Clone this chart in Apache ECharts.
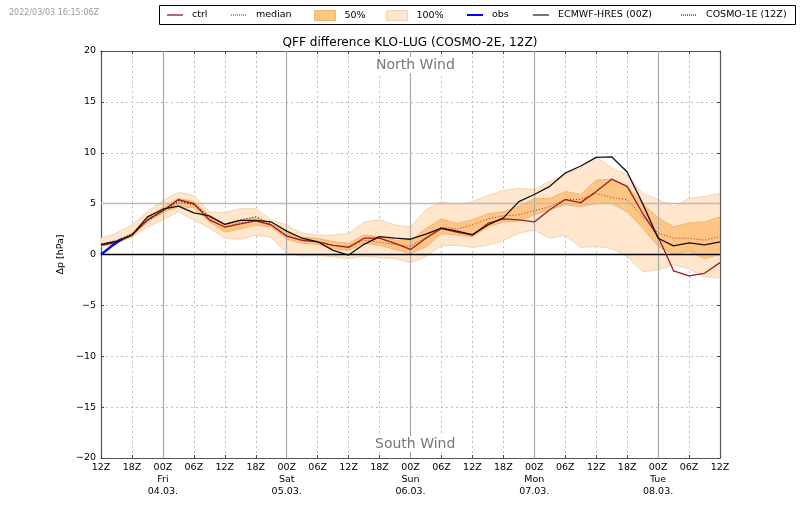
<!DOCTYPE html>
<html><head><meta charset="utf-8">
<style>html,body{margin:0;padding:0;background:#fff}#c{width:800px;height:509px}</style>
<script src="https://cdn.jsdelivr.net/npm/echarts@6/dist/echarts.min.js"></script>
</head><body><div id="c"></div>
<script>
const hours=[0,3,6,9,12,15,18,21,24,27,30,33,36,39,42,45,48,51,54,57,60,63,66,69,72,75,78,81,84,87,90,93,96,99,102,105,108,111,114,117,120];
const upper100=[1.6,2.1,2.9,4.2,5.3,6.1,5.8,4.2,4.1,4.5,4.5,3.4,2.9,2.1,1.9,1.9,2.07,3.2,3.4,2.9,2.7,4.4,5.2,4.85,5.2,5.8,6.3,6.5,6.4,7.2,7.8,8.5,9.6,8.5,7.8,6.0,5.4,4.7,5.5,5.7,6.0];
const lower100=[0.9,1.2,1.7,2.7,3.4,4.2,3.4,2.6,1.6,1.5,1.9,1.7,0.1,-0.15,-0.1,-0.2,-0.4,-0.15,-0.3,-0.4,-0.8,-0.2,0.9,0.9,0.7,0.9,1.4,2.1,2.4,1.6,1.9,0.7,0.8,0.6,-0.2,-1.7,-1.5,-1.0,-1.4,-2.2,-2.3];
const upper50=[1.0,1.3,2.1,3.6,4.6,5.5,5.2,3.8,3.0,3.3,3.6,3.0,2.1,1.7,1.6,1.25,1.1,1.9,1.75,1.4,1.4,2.55,3.5,3.05,3.4,4.0,4.2,4.7,5.5,5.5,6.2,5.9,7.3,7.4,6.7,5.0,3.6,2.7,3.1,3.2,3.7];
const lower50=[0.8,1.1,1.8,3.2,4.1,4.7,4.6,3.2,2.2,2.5,2.9,2.7,1.5,1.1,1.0,0.6,0.4,1.1,0.9,0.5,0.1,0.75,2.05,1.9,1.75,2.7,3.2,3.3,3.9,4.4,4.9,4.7,5.0,5.0,4.2,2.6,0.8,0.0,0.3,-0.4,0.0];
const ctrl=[0.9,1.2,1.9,3.4,4.3,5.4,5.0,3.4,2.7,3.0,3.3,2.9,1.8,1.4,1.25,0.9,0.7,1.6,1.6,1.1,0.5,1.6,2.55,2.2,1.9,3.05,3.5,3.4,3.2,4.4,5.4,5.1,6.2,7.4,6.7,4.05,1.75,-1.6,-2.1,-1.85,-0.8];
const median=[1.0,1.2,2.0,3.4,4.3,5.1,5.0,3.5,2.7,3.1,3.3,2.9,1.9,1.4,1.3,0.9,0.8,1.4,1.2,1.0,0.8,1.7,2.7,2.5,2.9,3.5,3.8,3.9,4.3,4.7,5.4,5.4,6.0,5.6,5.4,3.7,2.1,1.6,1.6,1.4,1.75];
const ecmwf=[1.0,1.3,1.9,3.7,4.45,4.75,4.1,3.8,2.95,3.35,3.35,3.2,2.3,1.6,1.25,0.4,-0.05,1.0,1.75,1.6,1.5,2.0,2.6,2.3,1.95,2.9,3.6,5.2,5.9,6.7,8.0,8.7,9.55,9.6,8.1,5.0,1.6,0.85,1.15,0.95,1.25];
const cosmoHours=[0,3,6,9,12,15,18,21,24,27,30,33];
const cosmo=[1.0,1.4,2.0,3.3,4.3,5.3,4.9,3.7,3.0,3.4,3.7,3.0];
const obsHours=[0,2,4];
const obs=[0,0.8,1.5];
const xTickHours=[0,6,12,18,24,30,36,42,48,54,60,66,72,78,84,90,96,102,108,114,120];
const xTickLabels=['12Z','18Z','00Z\nFri\n04.03.','06Z','12Z','18Z','00Z\nSat\n05.03.','06Z','12Z','18Z','00Z\nSun\n06.03.','06Z','12Z','18Z','00Z\nMon\n07.03.','06Z','12Z','18Z','00Z\nTue\n08.03.','06Z','12Z'];
const dayLines=[12,36,60,84,108];
const FONT='DejaVu Sans';
const DARK='#a01c1c';
const FILL100='#ffe6cc',EDGE100='#f3d3b2',FILL50='#ffc585',EDGE50='#f2b66f';
const pairs=(xs,ys)=>xs.map((x,i)=>[x,ys[i]]);
function band(name,lo,up,fill,edge,z){
  return {name,type:'custom',coordinateSystem:'cartesian2d',z,silent:true,clip:true,
    data:hours.map((h,i)=>[h,lo[i],up[i]]),encode:{x:0,y:[1,2]},
    renderItem(params,api){
      if(params.dataIndex!==0) return null;
      const top=hours.map((h,i)=>api.coord([h,up[i]]));
      const bot=hours.map((h,i)=>api.coord([h,lo[i]])).reverse();
      return {type:'polygon',shape:{points:top.concat(bot)},style:{fill,stroke:edge,lineWidth:1}};
    },
    itemStyle:{color:fill,borderColor:edge,borderWidth:1}};
}
const line=(name,xs,ys,color,width,type,z,op)=>({name,type:'line',data:pairs(xs,ys),showSymbol:false,symbol:'none',
  lineStyle:{color,width,type,opacity:op===undefined?1:op},itemStyle:{color},z,silent:true,clip:true});
const legendDefs=[
 {name:'ctrl',left:166,w:16,lc:'#b56a6a',type:'solid'},
 {name:'median',left:230,w:16,lc:'#c07a7a',type:[1,1]},
 {name:'50%',left:314,w:21,fill:FILL50,edge:EDGE50},
 {name:'100%',left:386,w:21,fill:FILL100,edge:EDGE100},
 {name:'obs',left:466,w:16,lc:'#0000ff',type:'solid'},
 {name:'ECMWF-HRES (00Z)',left:532,w:16,lc:'#777',type:'solid'},
 {name:'COSMO-1E (12Z)',left:680,w:16,lc:'#777',type:[1,1]}];
const frame={color:'#555',width:1.2};
const option={animation:false,backgroundColor:'#fff',
  textStyle:{fontFamily:FONT},
  title:{text:'QFF difference KLO-LUG (COSMO-2E, 12Z)',left:405,top:32,textAlign:'center',textStyle:{fontFamily:FONT,fontSize:12.1,fontWeight:'normal',color:'#000'}},
  legend:legendDefs.map(l=>({
    data:[l.fill?{name:l.name,icon:'rect',itemStyle:{color:l.fill,borderColor:l.edge,borderWidth:1}}
               :{name:l.name,itemStyle:{opacity:0},lineStyle:{color:l.lc,width:2,type:l.type}}],
    left:l.left,top:10,itemWidth:l.w,itemHeight:l.fill?10:2,itemGap:0,padding:0,selectedMode:false,
    textStyle:{fontFamily:FONT,fontSize:9.5,color:'#000',padding:[0,0,0,4]}})),
  grid:{left:101,right:80,top:51,bottom:51,containLabel:false},
  xAxis:[{type:'value',min:0,max:120,interval:6,position:'bottom',
    axisLine:{show:true,onZero:false,lineStyle:frame},axisTick:{inside:true,length:3,lineStyle:{color:'#444'}},
    axisLabel:{color:'#000',fontFamily:FONT,fontSize:9.5,lineHeight:12,margin:4,hideOverlap:false,showMinLabel:true,showMaxLabel:true,
      formatter:v=>xTickLabels[xTickHours.indexOf(v)]},
    splitLine:{show:true,lineStyle:{color:'#bdbdbd',type:[2,3],width:1}}},
   {type:'value',min:0,max:120,interval:6,position:'top',
    axisLine:{show:true,onZero:false,lineStyle:frame},axisTick:{inside:true,length:3,lineStyle:{color:'#444'}},axisLabel:{show:false},splitLine:{show:false}}],
  yAxis:[{type:'value',min:-20,max:20,interval:5,name:'Δp [hPa]',nameLocation:'middle',nameGap:33,nameRotate:90,nameTextStyle:{color:'#000',fontFamily:FONT,fontSize:9.5},
    axisLine:{show:true,onZero:false,lineStyle:frame},axisTick:{inside:true,length:3,lineStyle:{color:'#444'}},
    axisLabel:{color:'#000',fontFamily:FONT,fontSize:9.5,margin:5,formatter:v=>String(v).replace('-','\u2212')},
    splitLine:{show:true,lineStyle:{color:'#bdbdbd',type:[2,3],width:1}}},
   {type:'value',min:-20,max:20,interval:5,position:'right',
    axisLine:{show:true,onZero:false,lineStyle:frame},axisTick:{inside:true,length:3,lineStyle:{color:'#444'}},axisLabel:{show:false},splitLine:{show:false}}],
  series:[
   {name:'refs',type:'line',data:[],z:1,silent:true,symbol:'none',
    markLine:{silent:true,symbol:'none',label:{show:false},animation:false,data:dayLines.map(h=>({xAxis:h,lineStyle:{color:'#a8a8a8',width:1.2,type:'solid'}})).concat([{yAxis:5,lineStyle:{color:'#bcbcbc',width:1.4,type:'solid'}}])}},
   band('100%',lower100,upper100,FILL100,EDGE100,2),
   band('50%',lower50,upper50,FILL50,EDGE50,3),
   {name:'zero',type:'line',data:[],z:4,silent:true,symbol:'none',markLine:{silent:true,symbol:'none',label:{show:false},animation:false,data:[{yAxis:0,lineStyle:{color:'#000',width:1.4,type:'solid'}}]}},
   line('median',hours,median,DARK,1,[1,2],6,0.9),
   line('ctrl',hours,ctrl,DARK,1.3,'solid',7),
   line('obs',obsHours,obs,'#0000ff',2.4,'solid',8),
   line('ECMWF-HRES (00Z)',hours,ecmwf,'#111',1.3,'solid',9),
   line('COSMO-1E (12Z)',cosmoHours,cosmo,'#111',1.1,[1,2],10)
  ],
  graphic:[
   {type:'rect',left:157,top:3,shape:{width:636,height:19},style:{fill:'none',stroke:'#000',lineWidth:1},z:100},
   {type:'text',left:9,top:9,style:{text:'2022/03/03 16:15:06Z',fill:'#999',font:'8px "DejaVu Sans"'}},
   {type:'text',left:375,top:57,z:50,style:{text:'North Wind',fill:'#777',font:'14px "DejaVu Sans"',backgroundColor:'#fff',padding:[1,1]}},
   {type:'text',left:374,top:436,z:50,style:{text:'South Wind',fill:'#777',font:'14px "DejaVu Sans"',backgroundColor:'#fff',padding:[1,1]}}
  ]};
const chart=echarts.init(document.getElementById('c'),null,{renderer:'canvas'});
chart.setOption(option);
</script></body></html>
